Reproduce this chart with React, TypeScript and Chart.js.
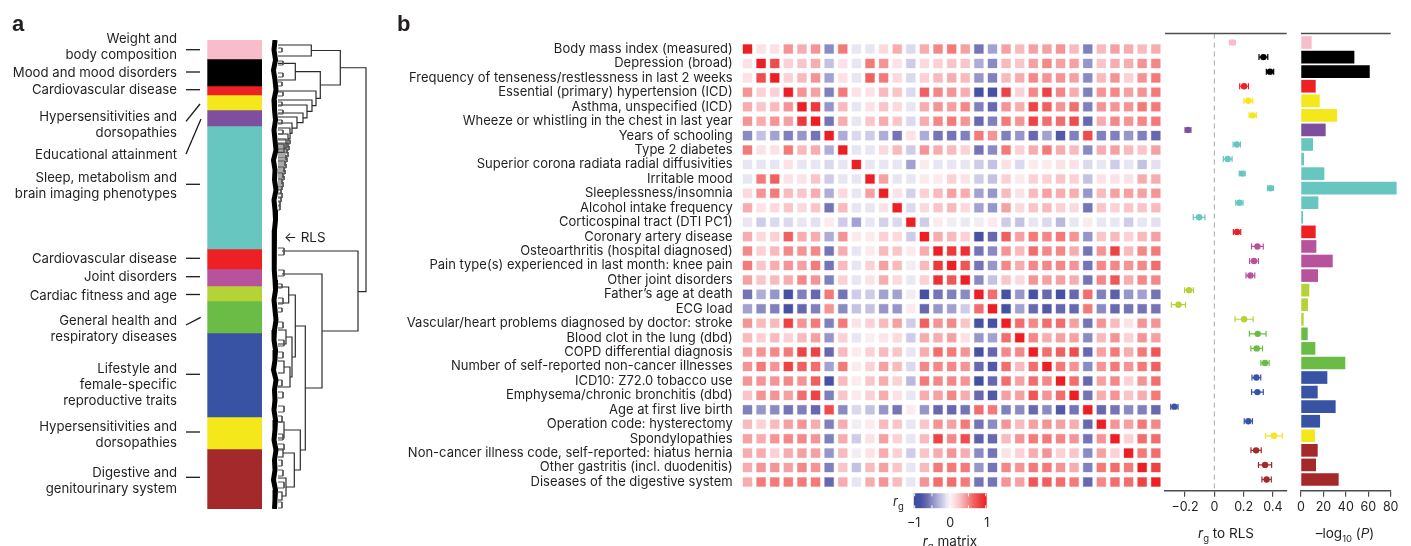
import React, { useEffect, useRef } from 'react';
import { Chart, registerables } from 'chart.js';
Chart.register(...registerables);

// ---------------- data ----------------
const traitNames = [
  'Body mass index (measured)', 'Depression (broad)', 'Frequency of tenseness/restlessness in last 2 weeks',
  'Essential (primary) hypertension (ICD)', 'Asthma, unspecified (ICD)', 'Wheeze or whistling in the chest in last year',
  'Years of schooling', 'Type 2 diabetes', 'Superior corona radiata radial diffusivities', 'Irritable mood',
  'Sleeplessness/insomnia', 'Alcohol intake frequency', 'Corticospinal tract (DTI PC1)', 'Coronary artery disease',
  'Osteoarthritis (hospital diagnosed)', 'Pain type(s) experienced in last month: knee pain', 'Other joint disorders',
  'Father\u2019s age at death', 'ECG load', 'Vascular/heart problems diagnosed by doctor: stroke',
  'Blood clot in the lung (dbd)', 'COPD differential diagnosis', 'Number of self-reported non-cancer illnesses',
  'ICD10: Z72.0 tobacco use', 'Emphysema/chronic bronchitis (dbd)', 'Age at first live birth',
  'Operation code: hysterectomy', 'Spondylopathies', 'Non-cancer illness code, self-reported: hiatus hernia',
  'Other gastritis (incl. duodenitis)', 'Diseases of the digestive system',
];
const traitGroup = ['pink', 'black', 'black', 'red', 'yellow', 'yellow', 'purple', 'teal', 'teal', 'teal', 'teal', 'teal', 'teal',
  'red', 'magenta', 'magenta', 'magenta', 'ygreen', 'ygreen', 'ygreen', 'green', 'green', 'green',
  'blue', 'blue', 'blue', 'blue', 'yellow', 'dred', 'dred', 'dred'];

const rgToRLS = [0.123, 0.335, 0.38, 0.203, 0.232, 0.262, -0.18, 0.153, 0.091, 0.19, 0.383, 0.171, -0.104, 0.155, 0.294,
  0.271, 0.246, -0.173, -0.245, 0.203, 0.296, 0.289, 0.346, 0.287, 0.294, -0.273, 0.232, 0.407, 0.285, 0.346, 0.357];
const rgCIHalf = [0.02, 0.03, 0.025, 0.03, 0.03, 0.025, 0.02, 0.025, 0.03, 0.02, 0.02, 0.025, 0.04, 0.025, 0.04, 0.03,
  0.03, 0.03, 0.048, 0.062, 0.057, 0.04, 0.028, 0.03, 0.04, 0.025, 0.028, 0.057, 0.035, 0.045, 0.032];
const negLog10P = [9.2, 47.3, 61, 12.8, 16.4, 31.8, 21.7, 10.4, 2.4, 20.5, 85, 15.2, 1.5, 12.8, 13.4, 28, 14.9, 7.1, 5.9,
  2.1, 5.7, 12.5, 39.2, 23.2, 14.6, 30.6, 16.7, 12.2, 14.6, 13.1, 33.3];
const rgTicks = [-0.2, 0, 0.2, 0.4];
const pTicks = [0, 20, 40, 60, 80];
const legendTicks = [-1, 0, 1];

const rgMatrix = [
  [1, .1, .1, .45, .35, .45, -.5, .55, -.1, -.1, .15, .35, -.15, .35, .5, .55, .4, -.6, -.4, .4, .3, .4, .4, .45, .3, -.55, .3, .4, .35, .3, .35],
  [.1, 1, .75, .2, .25, .35, -.25, .1, -.1, .55, .45, .1, -.2, .15, .2, .25, .25, -.35, -.5, .3, .25, .4, .5, .4, .4, -.45, .25, .35, .35, .45, .5],
  [.1, .75, 1, .2, .3, .45, -.4, .1, -.1, .65, .55, .15, -.15, .2, .3, .35, .3, -.45, -.55, .3, .35, .5, .45, .45, .4, -.5, .3, .45, .2, .45, .55],
  [.45, .2, .2, 1, .45, .4, -.55, .55, .1, .1, .3, .25, -.15, .65, .5, .45, .35, -.8, -.8, .8, .2, .5, .8, .5, .35, -.55, .45, .5, .4, .45, .55],
  [.35, .25, .3, .45, 1, .85, -.45, .3, -.1, .1, .25, .15, -.1, .35, .45, .4, .5, -.55, -.65, .45, .35, .8, .65, .45, .6, -.55, .45, .45, .45, .55, .55],
  [.45, .35, .45, .4, .85, 1, -.6, .35, -.1, .25, .35, .25, -.15, .35, .5, .55, .45, -.65, -.55, .55, .45, .8, .6, .6, .75, -.65, .35, .5, .45, .5, .55],
  [-.5, -.25, -.4, -.55, -.45, -.6, 1, -.35, -.15, -.2, -.35, -.6, .1, -.35, -.6, -.6, -.55, .55, .45, -.55, -.45, -.65, -.4, -.75, -.55, .75, -.55, -.55, -.45, -.55, -.65],
  [.55, .1, .1, .55, .3, .35, -.35, 1, -.1, -.1, .15, .3, -.2, .45, .35, .3, .2, -.6, -.5, .55, .2, .35, .55, .35, .3, -.5, .35, .4, .3, .25, .4],
  [-.1, -.1, -.1, .1, -.1, -.1, -.15, -.1, 1, -.1, -.1, -.1, -.4, .05, -.1, -.1, -.1, -.2, -.25, .1, -.15, .05, .05, .1, .1, -.15, -.1, -.2, -.1, -.25, -.12],
  [-.1, .55, .65, .1, .1, .25, -.2, -.1, -.1, 1, .4, -.1, -.1, .05, .05, .2, .1, -.2, -.25, .2, .05, .2, .2, .25, .2, -.25, .1, .1, .1, .35, .35],
  [.15, .45, .55, .3, .25, .35, -.35, .15, -.1, .4, 1, .1, -.18, .2, .3, .4, .35, -.4, -.45, .3, .1, .3, .4, .35, .35, -.45, .3, .4, .4, .4, .45],
  [.35, .1, .15, .25, .15, .25, -.6, .3, -.1, -.1, .1, 1, -.15, .15, .25, .3, .15, -.4, -.45, .4, .15, .25, .3, .2, .15, -.6, .25, .2, .25, .25, .3],
  [-.1, -.2, -.15, -.15, -.1, -.12, .05, -.2, -.4, -.1, -.18, -.15, 1, -.2, .05, -.05, -.08, -.05, .05, -.2, -.25, -.1, -.15, -.3, -.1, .05, -.1, -.1, -.2, -.1, -.12],
  [.35, .15, .2, .65, .35, .35, -.35, .45, .05, .05, .2, .15, -.2, 1, .35, .3, .2, -.8, -.65, .65, .4, .55, .5, .55, .45, -.45, .25, .3, .2, .3, .4],
  [.5, .2, .3, .5, .45, .5, -.6, .35, -.1, .05, .3, .25, .05, .35, 1, .85, .9, -.6, -.5, .45, .3, .6, .5, .5, .35, -.6, .45, .8, .3, .5, .55],
  [.55, .25, .35, .45, .4, .55, -.6, .3, -.1, .2, .4, .3, -.05, .3, .85, 1, .7, -.6, -.45, .5, .35, .5, .5, .5, .45, -.6, .5, .5, .45, .5, .6],
  [.4, .25, .3, .35, .5, .45, -.55, .2, -.1, .1, .35, .15, -.08, .2, .9, .7, 1, -.5, -.25, .25, .15, .45, .4, .4, .35, -.6, .5, .7, .35, .5, .5],
  [-.6, -.35, -.45, -.8, -.55, -.65, .55, -.6, -.2, -.2, -.4, -.4, -.05, -.8, -.6, -.55, -.5, 1, .6, -.8, -.45, -.8, -.65, -.8, -.65, .6, -.55, -.7, -.45, -.4, -.6],
  [-.4, -.5, -.55, -.8, -.65, -.55, .45, -.5, -.25, -.25, -.45, -.45, .05, -.65, -.45, -.4, -.2, .6, 1, -.8, -.4, -.65, -.75, -.65, -.65, .55, -.5, -.65, -.6, -.6, -.6],
  [.45, .3, .3, .8, .45, .55, -.55, .55, .1, .2, .3, .4, -.2, .65, .45, .5, .25, -.8, -.8, 1, .6, .5, .6, .6, .4, -.6, .45, .3, .1, .45, .45],
  [.3, .2, .3, .2, .3, .4, -.45, .2, -.1, .02, .08, .15, -.2, .35, .35, .4, .1, -.45, -.4, .6, 1, .5, .35, .4, .4, -.5, .3, .45, .2, .45, .4],
  [.4, .45, .5, .55, .8, .8, -.65, .3, .05, .2, .3, .25, -.1, .35, .6, .55, .45, -.8, -.65, .5, .5, 1, .6, .65, .75, -.65, .4, .55, .35, .55, .7],
  [.45, .55, .45, .8, .65, .6, -.4, .55, .05, .2, .4, .3, -.15, .5, .5, .5, .45, -.65, -.75, .6, .3, .6, 1, .55, .45, -.5, .45, .55, .45, .55, .65],
  [.45, .45, .45, .5, .45, .65, -.8, .3, .05, .25, .35, .2, -.3, .55, .5, .5, .45, -.85, -.65, .6, .4, .6, .5, 1, .6, -.65, .4, .5, .2, .45, .6],
  [.25, .45, .45, .4, .6, .8, -.55, .25, .05, .2, .35, .1, -.1, .35, .4, .5, .35, -.65, -.75, .4, .4, .7, .45, .6, 1, -.6, .35, .45, .25, .35, .55],
  [-.55, -.45, -.5, -.6, -.55, -.65, .75, -.5, -.15, -.25, -.45, -.6, .05, -.45, -.65, -.65, -.6, .6, .55, -.55, -.5, -.65, -.5, -.75, -.6, 1, -.65, -.6, -.5, -.55, -.65],
  [.3, .2, .3, .4, .45, .35, -.55, .35, -.05, .05, .3, .25, -.1, .25, .45, .4, .55, -.6, -.5, .45, .3, .4, .45, .4, .35, -.65, 1, .45, .4, .55, .5],
  [.4, .35, .45, .5, .5, .45, -.55, .35, -.2, .1, .4, .2, -.1, .3, .8, .5, .75, -.7, -.65, .3, .45, .55, .55, .5, .45, -.6, .45, 1, .2, .6, .6],
  [.35, .35, .2, .35, .4, .4, -.45, .3, -.05, .1, .35, .2, -.2, .25, .35, .45, .35, -.5, -.6, .1, .2, .35, .45, .2, .25, -.5, .4, .2, 1, .55, .6],
  [.35, .45, .45, .4, .5, .45, -.55, .25, -.25, .3, .4, .25, -.1, .3, .55, .55, .55, -.45, -.6, .5, .45, .55, .55, .45, .35, -.55, .55, .6, .55, 1, .8],
  [.35, .55, .55, .55, .55, .55, -.65, .35, -.1, .35, .45, .3, -.1, .45, .6, .6, .55, -.6, -.6, .45, .4, .7, .65, .6, .55, -.65, .5, .6, .6, .8, 1],
];

// panel a: cluster sizes (number of traits) from top to bottom
const clusterSizes = [19, 27, 9, 15, 16, 123, 20, 17, 15, 32, 84, 32, 60];
const clusterGroup = ['pink', 'black', 'red', 'yellow', 'purple', 'teal', 'red', 'magenta', 'ygreen', 'green', 'blue', 'yellow', 'dred'];
const clusterLabelLines = [
  ['Weight and', 'body composition'], ['Mood and mood disorders'], ['Cardiovascular disease'],
  ['Hypersensitivities and', 'dorsopathies'], ['Educational attainment'],
  ['Sleep, metabolism and', 'brain imaging phenotypes'], ['Cardiovascular disease'], ['Joint disorders'],
  ['Cardiac fitness and age'], ['General health and', 'respiratory diseases'],
  ['Lifestyle and', 'female-specific', 'reproductive traits'], ['Hypersensitivities and', 'dorsopathies'],
  ['Digestive and', 'genitourinary system'],
];
// dendrogram links: [yTop, heightTop, yBottom, heightBottom, nodeHeight]
const dendroLinks = [
  [5, 0, 16, 0, 33.3], [10.5, 33.3, 45, 42.3, 62.3], [27.75, 62.3, 251.7, 80, 88],
  [31.7, 17.3, 58.3, 38, 42.3], [23.3, 0, 40, 0, 17.3], [51, 0, 65.7, 34, 38], [60, 0, 71.4, 29, 34],
  [65, 0, 77.8, 25, 29], [73, 0, 82.6, 19, 25], [77, 0, 88.2, 14, 19], [83, 0, 93.4, 12, 14],
  [88, 0, 98.8, 10, 12], [94, 0, 103.6, 8, 10], [99, 0, 108.2, 6, 8], [104, 0, 112.4, 0, 6],
  [211, 4, 291, 44, 80], [234, 4, 348, 27.3, 44], [286, 17.3, 410, 22.3, 27.3], [255, 10.7, 317, 14, 17.3],
  [247, 0, 263, 0, 10.7], [297, 8, 337, 12, 14], [290, 0, 304, 0, 8], [327, 6, 347, 0, 12], [321, 0, 333, 0, 6],
  [390, 6, 430, 16.3, 22.3], [382, 0, 398, 0, 6], [413, 5, 447, 8, 16.3], [409, 0, 417, 0, 5],
  [438, 0, 456, 4, 8], [452, 0, 460, 0, 4],
];
// small leaf pairs: [yTop, yBottom, height]
const leafPairs = [
  [8, 12, 4], [21, 25, 5], [33, 37, 5], [42, 46, 4], [52, 56, 5], [62, 66, 4], [70, 74, 5], [80, 84, 4], [90, 94, 5],
  [100, 104, 12], [103, 108, 10], [106, 110, 11], [109, 113, 9], [112, 117, 10], [115, 120, 8], [118, 122, 9],
  [121, 126, 7], [124, 128, 8], [127, 132, 6], [130, 134, 7], [133, 138, 5], [136, 140, 6], [139, 144, 4],
  [142, 147, 5], [146, 150, 4], [149, 154, 3], [153, 158, 4], [157, 162, 3], [161, 166, 2], [165, 170, 2],
  [208, 215, 6], [230, 236, 6], [244, 248, 4], [258, 264, 5], [268, 272, 4], [282, 288, 5], [300, 306, 6],
  [312, 318, 5], [340, 346, 4], [352, 358, 5], [366, 372, 6], [376, 382, 4], [394, 400, 5], [404, 410, 6],
  [420, 426, 4], [430, 436, 5], [442, 448, 6], [462, 468, 4],
];
const leafBandY = [0, 10, 20, 30, 40, 50, 60, 70, 80, 90, 100, 110, 120, 130, 140, 150, 160, 170, 180, 190, 200,
  210, 220, 230, 240, 250, 260, 270, 280, 290, 300, 310, 320, 330, 340, 350, 360, 370, 380, 390, 400, 410, 420,
  430, 440, 450, 460, 469];
const leafBandH = [-3, -4, -2.5, -4.5, -3, -2, -4, -3.5, -2.5, -4, -3, -2, -4.5, -3, -3.5, -2, -4, -3, -2.5, -3.5,
  -3.5, -4, -4, -3.5, -3, -2.5, -4, -3, -2, -3.5, -4, -2.5, -3, -4.5, -2, -3.5, -3, -4, -2.5, -3, -4, -2, -3.5,
  -3, -4.5, -2.5, -3, -3.5];
const rlsIndex = 197;

// ---------------- styles ----------------
const PALETTE: Record<string, string> = {
  pink: '#F7BDCA', black: '#000000', red: '#ED2024', yellow: '#F4E71B', purple: '#7F4F9F', teal: '#67C6C0',
  magenta: '#B7529D', ygreen: '#B5D336', green: '#6BBC46', blue: '#3953A4', dred: '#A3292B',
};
const FONT = "Inter, 'Noto Sans', sans-serif";
const TEXT = '#231f20';
const AXIS = '#4d4d4d';
const traitColors = traitGroup.map((g) => PALETTE[g]);

const POS_STOPS: [number, number[]][] = [[0, [251, 241, 244]], [0.1, [252, 226, 230]], [0.2, [252, 208, 212]],
  [0.3, [248, 186, 188]], [0.45, [244, 148, 150]], [0.55, [244, 122, 122]], [0.65, [240, 96, 96]],
  [0.8, [238, 66, 68]], [1, [237, 30, 36]]];
const NEG_STOPS: [number, number[]][] = [[0, [251, 241, 244]], [0.1, [232, 230, 242]], [0.2, [206, 204, 232]],
  [0.3, [186, 184, 222]], [0.45, [150, 150, 202]], [0.55, [128, 128, 190]], [0.65, [104, 104, 176]],
  [0.8, [72, 82, 164]], [1, [56, 74, 156]]];
function rgColor(v: number, a = 1) {
  const stops = v >= 0 ? POS_STOPS : NEG_STOPS;
  const k = Math.min(1, Math.abs(v));
  for (let i = 1; i < stops.length; i++) {
    if (k <= stops[i][0]) {
      const [k0, c0] = stops[i - 1];
      const [k1, c1] = stops[i];
      const t = (k - k0) / (k1 - k0);
      const c = c0.map((x, j) => Math.round(x + (c1[j] - x) * t));
      return `rgba(${c[0]},${c[1]},${c[2]},${a})`;
    }
  }
  return `rgba(237,30,36,${a})`;
}

const base: any = {
  animation: false, responsive: false, events: [],
  plugins: { legend: { display: false }, tooltip: { enabled: false } },
};

// label tick marks of panel a: [x1, y1, x2, y2]
const labelTickLines = [[186, 49.7, 200, 49.7], [186, 72, 200, 72], [186, 89.7, 200, 89.7], [186, 121.3, 200, 104],
  [186, 154, 201, 119], [186, 184.3, 200, 184.3], [186, 258.3, 200, 258.3], [186, 276.7, 200, 276.7],
  [186, 294.5, 200, 294.5], [186, 325, 200.7, 317.3], [186, 374.3, 200, 374.3], [186, 432, 200, 432],
  [186, 477.3, 200, 477.3]];
const labelCenters = [38.7, 72, 89.7, 116.7, 154.3, 177.3, 258.3, 276.7, 295, 320.7, 368.7, 426, 472.3];

// ---------------- chart configs ----------------
const labelTickPlugin = {
  id: 'labelTicks',
  afterDraw(chart: any) {
    const c = chart.ctx;
    c.save();
    c.strokeStyle = '#1a1a1a';
    c.lineWidth = 1.3;
    labelTickLines.forEach(([x1, y1, x2, y2]) => { c.beginPath(); c.moveTo(x1, y1); c.lineTo(x2, y2); c.stroke(); });
    c.restore();
  },
};

const makeClusterBar = () => ({
  type: 'bar',
  data: {
    labels: ['clusters'],
    datasets: clusterSizes.map((s, k) => ({
      data: [s], backgroundColor: PALETTE[clusterGroup[k]], borderWidth: 0, barPercentage: 1, categoryPercentage: 1,
    })),
  },
  options: {
    ...base,
    layout: { padding: { left: 207.3, right: 0, top: 40, bottom: 37 } },
    scales: {
      x: { stacked: true, display: false },
      y: { stacked: true, display: false, min: 0, max: clusterSizes.reduce((a, b) => a + b, 0), reverse: true },
    },
  },
  plugins: [labelTickPlugin],
});

function linkPoints(links: number[][]) {
  const pts: any[] = [];
  links.forEach(([y1, h1, y2, h2, hn]) => {
    pts.push({ x: h1, y: y1 }, { x: hn, y: y1 }, { x: hn, y: y2 }, { x: h2, y: y2 }, { x: null, y: null });
  });
  return pts;
}

const makeDendro = () => ({
  type: 'scatter',
  data: {
    datasets: [
      { data: linkPoints(leafPairs.map(([a, b, h]) => [a, 0, b, 0, h])), showLine: true, borderColor: '#555', borderWidth: 1, pointRadius: 0, spanGaps: false },
      { data: linkPoints(dendroLinks), showLine: true, borderColor: '#2b2b2b', borderWidth: 1.2, pointRadius: 0, spanGaps: false },
      { data: leafBandY.map((y, i) => ({ x: leafBandH[i], y })), showLine: true, borderColor: '#000', borderWidth: 5, pointRadius: 0 },
      { data: [{ x: -6, y: rlsIndex }, { x: -1, y: rlsIndex }], showLine: true, borderColor: PALETTE.teal, borderWidth: 1.5, pointRadius: 0 },
    ],
  },
  options: {
    ...base,
    layout: { padding: { left: 0, right: 0, top: 40, bottom: 37 } },
    scales: {
      x: { type: 'linear', min: -16, max: 117, display: false },
      y: { type: 'linear', min: 0, max: clusterSizes.reduce((a, b) => a + b, 0), reverse: true, display: false },
    },
  },
});

const heatPoints: any[] = [];
rgMatrix.forEach((row, i) => row.forEach((v, j) => heatPoints.push({ x: j + 1, y: i + 1, v })));

const makeHeatmap = () => ({
  type: 'scatter',
  data: {
    datasets: [{
      data: heatPoints, pointStyle: 'rect', pointRadius: 6.4, pointHoverRadius: 6.4,
      backgroundColor: (c: any) => rgColor(c.raw ? c.raw.v : 0),
      borderColor: (c: any) => rgColor(c.raw ? c.raw.v : 0, 0.35), borderWidth: 1,
    }],
  },
  options: {
    ...base,
    layout: { padding: { left: 0, right: 7.2, top: 41.8, bottom: 56.8 } },
    scales: {
      x: { type: 'linear', min: 0.5, max: 31.5, display: false },
      y: {
        type: 'linear', min: 0.5, max: 31.5, reverse: true,
        afterFit: (s: any) => { s.width = 345.7; },
        afterBuildTicks: (s: any) => { s.ticks = traitNames.map((_, i) => ({ value: i + 1 })); },
        grid: { display: false, drawTicks: false }, border: { display: false },
        ticks: {
          padding: 8, autoSkip: false, color: TEXT, font: { family: FONT, size: 13 },
          callback: (v: number) => traitNames[Math.round(v) - 1],
        },
      },
    },
  },
});

const minusFmt = (v: number) => (v < 0 ? '\u2212' + Math.abs(v).toFixed(1) : v === 0 ? '0' : v.toFixed(1));

const topLinePlugin = {
  id: 'topLine',
  afterDraw(chart: any) {
    const { ctx: c, chartArea } = chart;
    c.save();
    c.strokeStyle = AXIS;
    c.lineWidth = 1.5;
    c.beginPath(); c.moveTo(chartArea.left, chartArea.top); c.lineTo(chartArea.right, chartArea.top); c.stroke();
    c.restore();
  },
};

const errorBarPlugin = {
  id: 'errorBars',
  afterDatasetsDraw(chart: any) {
    const { ctx: c, scales } = chart;
    c.save();
    c.lineWidth = 1.2;
    rgToRLS.forEach((v, i) => {
      const x0 = scales.x.getPixelForValue(v - rgCIHalf[i]);
      const x1 = scales.x.getPixelForValue(v + rgCIHalf[i]);
      const py = scales.y.getPixelForValue(i);
      c.strokeStyle = traitColors[i];
      c.beginPath();
      c.moveTo(x0, py); c.lineTo(x1, py);
      c.moveTo(x0, py - 3); c.lineTo(x0, py + 3);
      c.moveTo(x1, py - 3); c.lineTo(x1, py + 3);
      c.stroke();
    });
    c.restore();
  },
};

const rowAxis = () => ({ type: 'linear', min: -0.62, max: 30.77, reverse: true, display: false, offset: false, grace: 0 });
const bottomAxis = (ticks: number[], fmt: (v: number) => string) => ({
  type: 'linear',
  afterFit: (s: any) => { s.height = 55.3; },
  afterBuildTicks: (s: any) => { s.ticks = ticks.map((v) => ({ value: v })); },
  grid: { display: true, drawOnChartArea: false, drawTicks: true, tickLength: 6, color: AXIS, lineWidth: 1.2 },
  border: { display: true, color: AXIS, width: 1.5 },
  ticks: { padding: 3, color: TEXT, font: { family: FONT, size: 12.5 }, callback: fmt },
});

const makeErrorChart = () => ({
  type: 'scatter',
  data: {
    datasets: [
      { type: 'line', data: [{ x: 0, y: -0.62 }, { x: 0, y: 30.77 }], borderColor: '#b5b5b5', borderWidth: 1.2, borderDash: [5, 4], pointRadius: 0, order: 2 },
      { data: rgToRLS.map((v, i) => ({ x: v, y: i })), pointRadius: 3.2, backgroundColor: traitColors, borderWidth: 0, order: 1 },
    ],
  },
  options: {
    ...base,
    layout: { padding: { left: 15, right: 13.3, top: 33.5, bottom: 0 } },
    scales: { x: { ...bottomAxis(rgTicks, minusFmt), min: -0.337, max: 0.494 }, y: rowAxis() },
  },
  plugins: [errorBarPlugin, topLinePlugin],
});

const makePChart = () => ({
  type: 'bar',
  data: {
    datasets: [{ data: negLog10P.map((v, i) => ({ x: v, y: i })), backgroundColor: traitColors, borderWidth: 0, barThickness: 12, clip: false }],
  },
  options: {
    ...base,
    indexAxis: 'y',
    layout: { padding: { left: 11, right: 20.3, top: 33.5, bottom: 0 } },
    scales: { x: { ...bottomAxis(pTicks, (v: number) => String(v)), min: 0, max: 80 }, y: rowAxis() },
  },
  plugins: [topLinePlugin],
});

const legendMarks = [-1, -0.5, 0, 0.5, 1];
const legendMarkPlugin = {
  id: 'legendMarks',
  afterDatasetsDraw(chart: any) {
    const { ctx: c, chartArea, scales } = chart;
    c.save();
    c.strokeStyle = '#fff';
    c.lineWidth = 1;
    legendMarks.forEach((v) => {
      const x = Math.min(chartArea.right - 1, Math.max(chartArea.left + 1, scales.x.getPixelForValue(v)));
      c.beginPath();
      c.moveTo(x, chartArea.top); c.lineTo(x, chartArea.top + 3);
      c.moveTo(x, chartArea.bottom - 3); c.lineTo(x, chartArea.bottom);
      c.stroke();
    });
    c.restore();
  },
};

const makeLegend = () => ({
  type: 'bar',
  data: {
    labels: ['rg'],
    datasets: [{
      data: [[-1, 1]], borderWidth: 0, barPercentage: 1, categoryPercentage: 1,
      backgroundColor: (ctx: any) => {
        const ca = ctx.chart.chartArea;
        if (!ca) return 'transparent';
        const g = ctx.chart.ctx.createLinearGradient(ca.left, 0, ca.right, 0);
        for (let s = 0; s <= 40; s++) g.addColorStop(s / 40, rgColor(-1 + s / 20));
        return g;
      },
    }],
  },
  options: {
    ...base,
    indexAxis: 'y',
    layout: { padding: { left: 12.7, right: 13.3, top: 8.3, bottom: 0 } },
    scales: {
      x: {
        type: 'linear', min: -1, max: 1,
        afterFit: (s: any) => { s.height = 37.7; },
        afterBuildTicks: (s: any) => { s.ticks = legendTicks.map((v) => ({ value: v })); },
        grid: { display: false, drawTicks: false }, border: { display: false },
        ticks: { padding: 7, color: TEXT, font: { family: FONT, size: 12.5 }, callback: (v: number) => (v < 0 ? '\u2212' + Math.abs(v) : String(v)) },
      },
      y: { display: false },
    },
  },
  plugins: [legendMarkPlugin],
});

// ---------------- components ----------------
function ChartBox({ left, top, width, height, make }: any) {
  const ref = useRef<HTMLCanvasElement>(null);
  useEffect(() => {
    const chart = new Chart(ref.current as HTMLCanvasElement, make());
    return () => chart.destroy();
  }, []);
  return <canvas ref={ref} width={width} height={height} style={{ position: 'absolute', left, top, width, height }} />;
}

const txt: React.CSSProperties = { position: 'absolute', fontFamily: FONT, color: TEXT, whiteSpace: 'pre' };
const sub: React.CSSProperties = { fontSize: '9.5px', position: 'relative', top: '4px' };

export default function App() {
  return (
    <div style={{ position: 'absolute', left: 0, top: 0, width: 1411, height: 546, overflow: 'hidden', background: '#fff' }}>
      <ChartBox left={0} top={0} width={262} height={546} make={makeClusterBar} />
      <ChartBox left={262} top={0} width={133} height={546} make={makeDendro} />
      <ChartBox left={395} top={0} width={775} height={546} make={makeHeatmap} />
      <ChartBox left={1150} top={0} width={150} height={546} make={makeErrorChart} />
      <ChartBox left={1290} top={0} width={121} height={546} make={makePChart} />
      <ChartBox left={900} top={485} width={100} height={61} make={makeLegend} />

      <div style={{ ...txt, left: 12, top: 13.4, fontFamily: "'Liberation Sans', Arial, sans-serif", fontWeight: 700, fontSize: 22, lineHeight: '22px' }}>a</div>
      <div style={{ ...txt, left: 397, top: 13, fontFamily: "'Liberation Sans', Arial, sans-serif", fontWeight: 700, fontSize: 22, lineHeight: '22px' }}>b</div>

      {clusterLabelLines.map((lines, k) => (
        <div key={k} style={{ ...txt, left: 0, width: 177, textAlign: 'right', top: labelCenters[k] - 8.5, fontSize: 13.2, lineHeight: '16px' }}>
          {lines.join('\n')}
        </div>
      ))}
      <div style={{ ...txt, left: 284, top: 228.8, fontSize: 13.5, lineHeight: '16px' }}>{'\u2190 RLS'}</div>

      <div style={{ ...txt, left: 893, top: 493, fontSize: 13, lineHeight: '16px' }}><i>r</i><span style={sub}>g</span></div>
      <div style={{ ...txt, left: 900, width: 100, textAlign: 'center', top: 532.5, fontSize: 13.5, lineHeight: '16px' }}><i>r</i><span style={sub}>g</span> matrix</div>
      <div style={{ ...txt, left: 1166, width: 120, textAlign: 'center', top: 524.5, fontSize: 13.5, lineHeight: '16px' }}><i>r</i><span style={sub}>g</span> to RLS</div>
      <div style={{ ...txt, left: 1290, width: 110, textAlign: 'center', top: 524.5, fontSize: 13.5, lineHeight: '16px' }}>{'\u2013log'}<span style={sub}>10</span>{' ('}<i>P</i>{')'}</div>
    </div>
  );
}
